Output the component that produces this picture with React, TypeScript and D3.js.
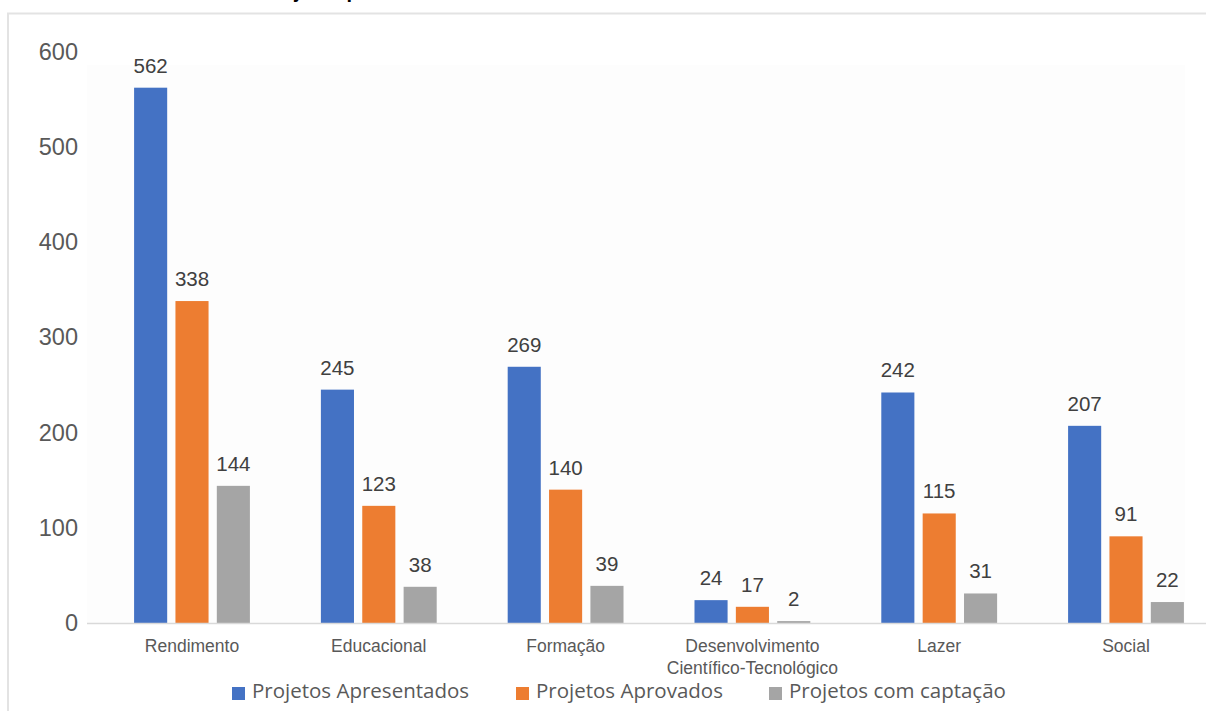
import React from "react";
import * as d3 from "d3";

const categories: string[][] = [
  ["Rendimento"],
  ["Educacional"],
  ["Formação"],
  ["Desenvolvimento", "Científico-Tecnológico"],
  ["Lazer"],
  ["Social"],
];
const seriesNames = ["Projetos Apresentados", "Projetos Aprovados", "Projetos com captação"];
const apresentados = [562, 245, 269, 24, 242, 207];
const aprovados = [338, 123, 140, 17, 115, 91];
const captacao = [144, 38, 39, 2, 31, 22];
const yTicks = [0, 100, 200, 300, 400, 500, 600];
const colors = ["#4472C4", "#ED7D31", "#A5A5A5"];
const titleText = "Projetos por área";

const W = 1206;
const H = 711;

export default function App() {
  const series = [apresentados, aprovados, captacao];
  const keys = categories.map((c) => c.join(" "));
  const x = d3.scaleBand<string>().domain(keys).range([98.6, 1219.4]).paddingInner(0).paddingOuter(0);
  const bw = x.bandwidth();
  const inner = d3
    .scaleBand<number>()
    .domain([0, 1, 2])
    .range([bw * 0.19, bw * 0.81])
    .paddingInner(0.2)
    .paddingOuter(0);
  const y = d3.scaleLinear().domain([0, 600]).range([623, 51.5]);
  const sans = "'Liberation Sans', Arial, sans-serif";
  const legendX = [232, 516, 769];

  return (
    <div style={{ position: "absolute", left: 0, top: 0, width: W, height: H }}>
      <svg width={W} height={H} style={{ display: "block", background: "#fff" }}>
        <text x={261} y={-2} fontFamily={sans} fontWeight="bold" fontSize={20} fill="#000">
          {titleText}
        </text>
        {/* frame */}
        <line x1={7} x2={W} y1={13.5} y2={13.5} stroke="#e3e3e3" strokeWidth={2} />
        <line x1={8} x2={8} y1={13} y2={H} stroke="#e3e3e3" strokeWidth={2} />
        {/* plot area */}
        <rect x={87} y={65} width={1098} height={558} fill="#fdfdfd" />
        {/* y labels */}
        {yTicks.map((t) => (
          <text
            key={t}
            x={78}
            y={y(t)}
            dy="0.35em"
            textAnchor="end"
            fontFamily={sans}
            fontSize={23.5}
            fill="#595959"
          >
            {t}
          </text>
        ))}
        {/* bars */}
        {keys.map((k, ci) =>
          series.map((s, si) => {
            const bx = (x(k) as number) + (inner(si) as number);
            const v = s[ci];
            return (
              <g key={k + si}>
                <rect x={bx} y={y(v)} width={inner.bandwidth()} height={y(0) - y(v)} fill={colors[si]} />
                <text
                  x={bx + inner.bandwidth() / 2}
                  y={y(v) - 15}
                  textAnchor="middle"
                  fontFamily={sans}
                  fontSize={20.5}
                  fill="#404040"
                >
                  {v}
                </text>
              </g>
            );
          })
        )}
        {/* baseline */}
        <line x1={87} x2={W} y1={y(0) + 0.5} y2={y(0) + 0.5} stroke="#d9d9d9" strokeWidth={1.5} />
        {/* x labels */}
        {categories.map((c, ci) => (
          <text
            key={ci}
            x={(x(keys[ci]) as number) + bw / 2}
            y={652}
            textAnchor="middle"
            fontFamily={sans}
            fontSize={17.5}
            fill="#595959"
          >
            {c.map((line, li) => (
              <tspan key={li} x={(x(keys[ci]) as number) + bw / 2} dy={li === 0 ? 0 : 21.5}>
                {line}
              </tspan>
            ))}
          </text>
        ))}
        {/* legend */}
        {seriesNames.map((n, i) => (
          <g key={n}>
            <rect x={legendX[i]} y={687} width={13} height={13} fill={colors[i]} />
            <text
              x={legendX[i] + 20}
              y={698}
              fontFamily="'Open Sans', 'Noto Sans', sans-serif"
              fontSize={20.5}
              fill="#595959"
            >
              {n}
            </text>
          </g>
        ))}
      </svg>
    </div>
  );
}
